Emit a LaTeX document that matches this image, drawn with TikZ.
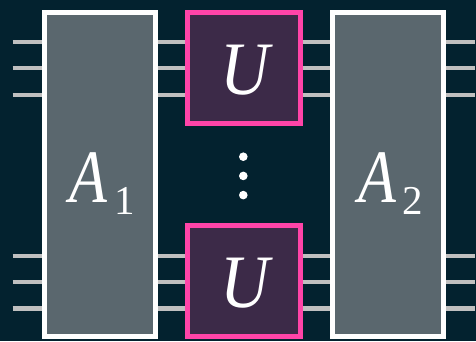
\documentclass[tikz,border=0pt]{standalone}
\usepackage{fontspec}
\setmainfont{Liberation Serif}
\definecolor{bgdark}{HTML}{03222F}
\definecolor{boxgray}{HTML}{5A676E}
\definecolor{gateplum}{HTML}{3C2A48}
\definecolor{pinkedge}{HTML}{FF44A8}
\definecolor{wiregray}{HTML}{C0C0C0}
\pgfdeclarelayer{under}
\pgfsetlayers{under,main}
% italic letter, a little condensed, with an upright lowered index
\newcommand{\narrowA}{\scalebox{0.82}[1]{A}}
\newcommand{\subidx}[1]{\raisebox{-12.5pt}{\fontsize{41}{41}\selectfont\upshape #1}}
\begin{document}
\begin{tikzpicture}[x=1pt,y=-1pt,
  blockA/.style={draw=white, fill=boxgray, line width=5pt, inner sep=0pt,
    minimum width=111pt, minimum height=324pt},
  gateU/.style={draw=pinkedge, fill=gateplum, line width=5pt, inner sep=0pt,
    minimum width=112.5pt, minimum height=111pt},
  wire/.style={draw=wiregray, line width=4.8pt},
  lbl/.style={text=white, inner sep=0pt, font=\fontsize{75.5}{75.5}\selectfont\itshape},
  vdot/.style={circle, fill=white, inner sep=0pt, minimum size=8.6pt}]
\useasboundingbox (0,0) rectangle (476,341);

% blocks and gates
\node[blockA] (A1) at (100,174) {};
\node[blockA] (A2) at (387.5,174) {};
\node[gateU] (U1) at (244,67.75) {};
\node[gateU] (U2) at (244,281) {};

% labels
\node[lbl] (A1lbl) at (102.5,183.5) {\narrowA\kern7pt\subidx{1}};
\node[lbl] (A2lbl) at (391,183.5) {\narrowA\kern6pt\subidx{2}};
\node[lbl] (U1lbl) at (245,70) {\scalebox{0.9}[1]{U}};
\node[lbl] (U2lbl) at (245,283.5) {\scalebox{0.9}[1]{U}};

% vertical ellipsis
\node[vdot] (d1) at (243.3,156.7) {};
\node[vdot] (d2) at (243.3,175.9) {};
\node[vdot] (d3) at (243.3,195.1) {};

% wire end points
\foreach \y [count=\i] in {42,68,95,256,282,308.5} {
  \coordinate (inL\i) at (12.7,\y);
  \coordinate (outR\i) at (474.7,\y);
}

\begin{pgfonlayer}{under}
  \fill[bgdark] (0,0) rectangle (476,341);
  \foreach \i/\g in {1/U1,2/U1,3/U1,4/U2,5/U2,6/U2} {
    \draw[wire] (inL\i) -- (inL\i -| A1.center);
    \draw[wire] (inL\i -| A1.center) -- (inL\i -| \g.center);
    \draw[wire] (inL\i -| \g.center) -- (inL\i -| A2.center);
    \draw[wire] (inL\i -| A2.center) -- (outR\i);
  }
\end{pgfonlayer}
\end{tikzpicture}
\end{document}
